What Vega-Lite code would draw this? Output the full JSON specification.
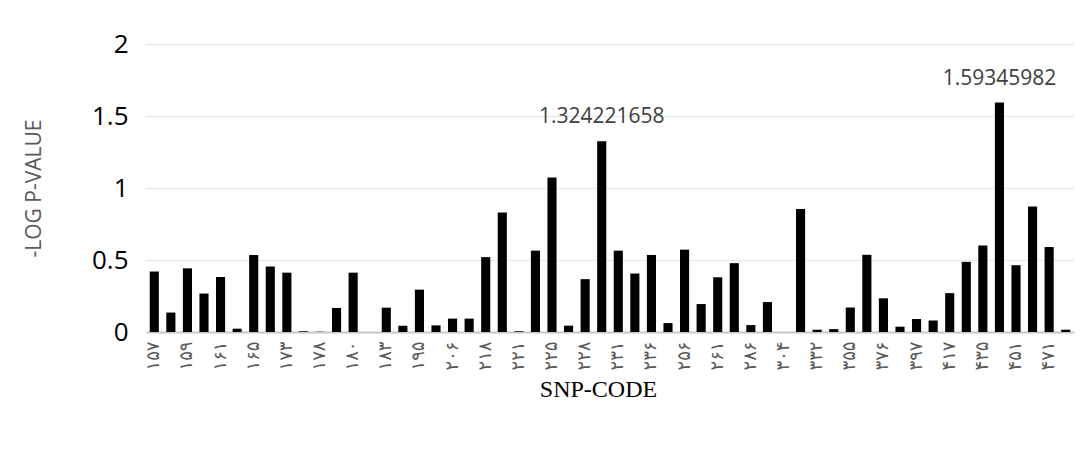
{
  "$schema": "https://vega.github.io/schema/vega-lite/v6.json",
  "autosize": {"type": "none"},
  "width": 928,
  "height": 288,
  "padding": {"left": 146, "top": 44, "right": 15, "bottom": 122},
  "background": "white",
  "config": {"view": {"stroke": null}},
  "data": {"values": [
    {"code": "۱۵۷", "v": 0.42},
    {"code": "۱۵۸", "v": 0.135},
    {"code": "۱۵۹", "v": 0.442},
    {"code": "۱۶۰", "v": 0.267},
    {"code": "۱۶۱", "v": 0.382},
    {"code": "۱۶۳", "v": 0.023},
    {"code": "۱۶۵", "v": 0.535},
    {"code": "۱۷۰", "v": 0.454},
    {"code": "۱۷۳", "v": 0.412},
    {"code": "۱۷۵", "v": 0.005},
    {"code": "۱۷۸", "v": 0.002},
    {"code": "۱۷۹", "v": 0.167},
    {"code": "۱۸۰", "v": 0.412},
    {"code": "۱۸۲", "v": 0.0},
    {"code": "۱۸۳", "v": 0.169},
    {"code": "۱۹۰", "v": 0.044},
    {"code": "۱۹۵", "v": 0.294},
    {"code": "۲۰۰", "v": 0.046},
    {"code": "۲۰۶", "v": 0.093},
    {"code": "۲۱۰", "v": 0.093},
    {"code": "۲۱۸", "v": 0.52},
    {"code": "۲۲۰", "v": 0.83},
    {"code": "۲۲۱", "v": 0.005},
    {"code": "۲۲۳", "v": 0.565},
    {"code": "۲۲۵", "v": 1.073},
    {"code": "۲۲۶", "v": 0.044},
    {"code": "۲۲۸", "v": 0.367},
    {"code": "۲۳۰", "v": 1.324221658, "lbl": "1.324221658"},
    {"code": "۲۳۱", "v": 0.565},
    {"code": "۲۳۳", "v": 0.406},
    {"code": "۲۳۶", "v": 0.535},
    {"code": "۲۴۶", "v": 0.062},
    {"code": "۲۵۶", "v": 0.572},
    {"code": "۲۵۸", "v": 0.194},
    {"code": "۲۶۱", "v": 0.38},
    {"code": "۲۷۰", "v": 0.478},
    {"code": "۲۸۶", "v": 0.048},
    {"code": "۲۹۵", "v": 0.208},
    {"code": "۳۰۴", "v": 0.0},
    {"code": "۳۲۰", "v": 0.855},
    {"code": "۳۳۲", "v": 0.016},
    {"code": "۳۴۵", "v": 0.02},
    {"code": "۳۵۵", "v": 0.17},
    {"code": "۳۶۵", "v": 0.536},
    {"code": "۳۷۶", "v": 0.234},
    {"code": "۳۸۵", "v": 0.037},
    {"code": "۳۹۷", "v": 0.09},
    {"code": "۴۰۵", "v": 0.08},
    {"code": "۴۱۷", "v": 0.27},
    {"code": "۴۲۵", "v": 0.487},
    {"code": "۴۳۵", "v": 0.6},
    {"code": "۴۴۵", "v": 1.59345982, "lbl": "1.59345982"},
    {"code": "۴۵۱", "v": 0.464},
    {"code": "۴۶۰", "v": 0.872},
    {"code": "۴۷۱", "v": 0.59},
    {"code": "۴۷۵", "v": 0.016}
  ]},
  "encoding": {
    "x": {
      "field": "code", "type": "nominal", "sort": null,
      "scale": {"paddingInner": 0.45, "paddingOuter": 0.225},
      "axis": {
        "title": "SNP-CODE",
        "titleFont": "Liberation Serif", "titleFontSize": 24, "titleFontWeight": "normal", "titleColor": "#000000",
        "titleX": 452, "titleY": 57, "titleBaseline": "middle", "titleAlign": "center",
        "values": ["۱۵۷","۱۵۹","۱۶۱","۱۶۵","۱۷۳","۱۷۸","۱۸۰","۱۸۳","۱۹۵","۲۰۶","۲۱۸","۲۲۱","۲۲۵","۲۲۸","۲۳۱","۲۳۶","۲۵۶","۲۶۱","۲۸۶","۳۰۴","۳۳۲","۳۵۵","۳۷۶","۳۹۷","۴۱۷","۴۳۵","۴۵۱","۴۷۱"],
        "labelAngle": -90, "labelFont": "DejaVu Sans", "labelFontSize": 18, "labelColor": "#595959",
        "labelPadding": 9, "ticks": false,
        "domainColor": "#c8c8c8", "domainWidth": 2, "grid": false
      }
    }
  },
  "layer": [
    {
      "mark": {"type": "bar", "color": "#000000"},
      "encoding": {
        "y": {
          "field": "v", "type": "quantitative",
          "scale": {"domain": [0, 2], "nice": false},
          "axis": {
            "title": "-LOG P-VALUE", "values": [0, 0.5, 1, 1.5, 2], "format": "~g",
            "titleFont": "Open Sans", "titleFontSize": 21, "titleFontWeight": "normal", "titleColor": "#595959",
            "titleX": -112, "titleY": 144, "titleAngle": -90, "titleAlign": "center", "titleBaseline": "middle",
            "labelFont": "Open Sans", "labelFontSize": 26, "labelColor": "#000000", "labelPadding": 18,
            "ticks": false, "domain": false,
            "gridColor": "#e9e9e9", "gridWidth": 1.5
          }
        }
      }
    },
    {
      "transform": [{"filter": "datum.lbl"}],
      "mark": {"type": "text", "font": "Open Sans", "fontSize": 21, "color": "#404040", "baseline": "alphabetic", "dy": -18},
      "encoding": {
        "y": {"field": "v", "type": "quantitative"},
        "text": {"field": "lbl"}
      }
    }
  ]
}
